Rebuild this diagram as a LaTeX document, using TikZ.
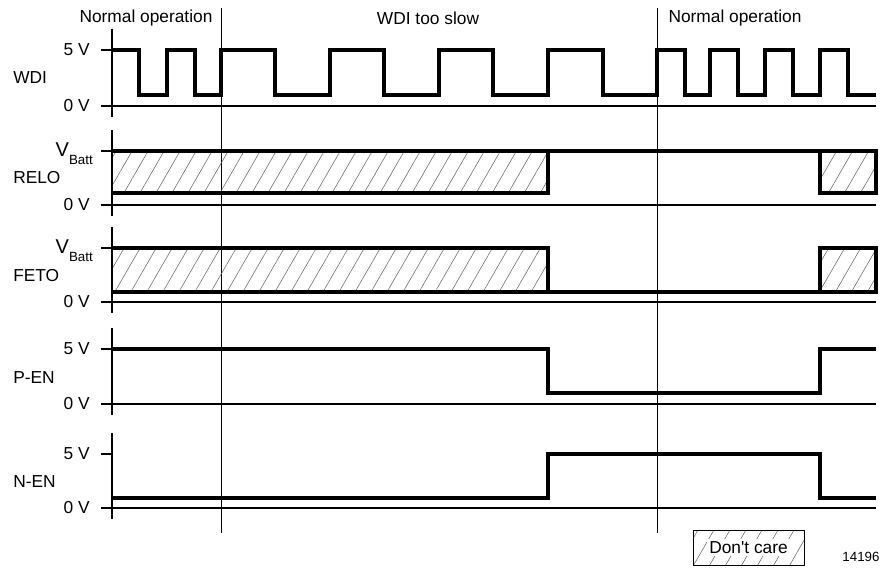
\documentclass[tikz,border=0pt]{standalone}
\usepackage{fontspec}
\setmainfont{Liberation Sans}
\usetikzlibrary{patterns.meta}

\newcommand{\vbatt}{{\fontsize{15}{16}\selectfont V}\raisebox{-6pt}{\fontsize{10}{12}\selectfont Batt}}

\begin{document}
\begin{tikzpicture}[
    x=0.75pt, y=-0.75pt,
    every node/.style={font=\fontsize{13}{15}\selectfont, inner sep=0pt},
    signal/.style={line width=2.5pt, line join=miter},
    vaxis/.style={line width=2pt},
    zeroline/.style={line width=1.6pt},
    ticker/.style={line width=1.2pt},
    phasesep/.style={line width=0.7pt},
    dontcare/.style={pattern={Lines[angle=60, distance=10.4pt, line width=0.4pt]}, pattern color=black!60},
    lvllabel/.style={anchor=east},
    tracelabel/.style={anchor=west}
]
\useasboundingbox (0,0) rectangle (884,574);

% phase separators and headings
\draw [phasesep] (221,8) -- (221,533);
\draw [phasesep] (657,8) -- (657,533);
\node (ph1) at (146,18) {Normal operation};
\node (ph2) at (428,18) {WDI too slow};
\node (ph3) at (735,18) {Normal operation};

% axes of the five traces
\foreach \hi/\zero in {50/106, 151/205, 248/302, 349/404, 454/508} {
    \draw [vaxis] (112,\hi-21) -- (112,\zero+11);
    \draw [ticker] (101,\hi) -- (112,\hi);
    \draw [zeroline] (101,\zero) -- (876,\zero);
    \node [lvllabel] at (90,\zero) {0 V};
}

% WDI
\node (wdi) [tracelabel] at (13,78) {WDI};
\node (wdihi) [lvllabel] at (90,50) {5 V};
\draw [signal] (113,50) -- (139,50) -- (139,95) -- (167,95) -- (167,50) -- (195,50)
    -- (195,95) -- (221,95) -- (221,50) -- (275,50) -- (275,95) -- (330,95) -- (330,50)
    -- (384,50) -- (384,95) -- (439,95) -- (439,50) -- (493,50) -- (493,95) -- (548,95)
    -- (548,50) -- (603,50) -- (603,95) -- (657,95) -- (657,50) -- (685,50) -- (685,95)
    -- (710,95) -- (710,50) -- (738,50) -- (738,95) -- (765,95) -- (765,50) -- (793,50)
    -- (793,95) -- (820,95) -- (820,50) -- (848,50) -- (848,95) -- (876,95);

% RELO
\node (relo) [tracelabel] at (13,178) {RELO};
\node (relohi) [lvllabel] at (93,154) {\vbatt};
\fill [dontcare] (113,151) rectangle (548,193);
\fill [dontcare] (820,151) rectangle (876,193);
\draw [signal] (113,151) -- (876,151) -- (876,193) -- (820,193) -- (820,151);
\draw [signal] (113,193) -- (548,193) -- (548,151);

% FETO
\node (feto) [tracelabel] at (13,276) {FETO};
\node (fetohi) [lvllabel] at (93,251) {\vbatt};
\fill [dontcare] (113,248) rectangle (548,292);
\fill [dontcare] (820,248) rectangle (876,292);
\draw [signal] (113,292) -- (876,292) -- (876,248) -- (820,248) -- (820,292);
\draw [signal] (113,248) -- (548,248) -- (548,292);

% P-EN
\node (pen) [tracelabel] at (13,378) {P-EN};
\node (penhi) [lvllabel] at (90,349) {5 V};
\draw [signal] (113,349) -- (548,349) -- (548,393) -- (820,393) -- (820,349) -- (876,349);

% N-EN
\node (nen) [tracelabel] at (13,482) {N-EN};
\node (nenhi) [lvllabel] at (90,454) {5 V};
\draw [signal] (113,498) -- (548,498) -- (548,454) -- (820,454) -- (820,498) -- (876,498);

% legend
\fill [dontcare] (693,530) rectangle (804,565);
\draw [line width=0.7pt] (693,530) rectangle (804,565);
\node (care) [fill=white, inner sep=1.5pt] at (748.5,547.5) {Don\textquotesingle t care};
\node (fig) [font=\fontsize{10}{12}\selectfont] at (861,557) {14196};
\end{tikzpicture}
\end{document}
